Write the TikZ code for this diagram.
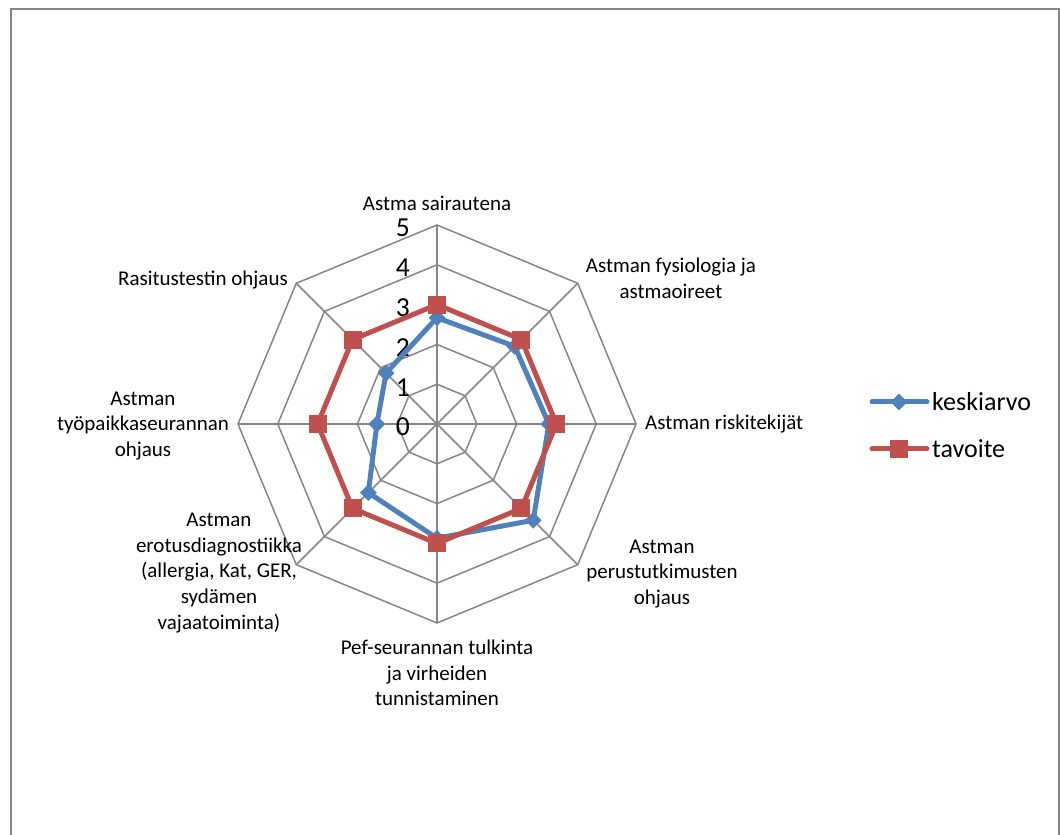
\documentclass[tikz,border=0pt]{standalone}
\usepackage{fontspec}
\setmainfont{Carlito}
\usetikzlibrary{shapes.geometric}
\definecolor{gridgray}{HTML}{868686}
\definecolor{serblue}{HTML}{4F81BD}
\definecolor{serred}{HTML}{C0504D}
\tikzset{
  grid line/.style={draw=gridgray, line width=1.5pt},
  series/.style={line width=5pt, line join=round},
  diamondmark/.style={diamond, fill=serblue, inner sep=0pt, minimum width=17pt, minimum height=17pt},
  squaremark/.style={rectangle, fill=serred, inner sep=0pt, minimum size=18pt},
  catlabel/.style={font=\fontsize{21}{25.6}\selectfont, align=center, inner sep=0pt},
  ticklabel/.style={font=\fontsize{27.5}{31}\selectfont, anchor=east, inner sep=0pt},
  legendtext/.style={font=\fontsize{26}{30}\selectfont, anchor=west, inner sep=0pt},
}
\begin{document}
\begin{tikzpicture}[x=1pt,y=1pt]
\useasboundingbox (0,0) rectangle (1060,835);
\clip (0,0) rectangle (1060,835);
% chart area frame
\draw[draw=gridgray, line width=1.8pt] (11,826) rectangle (1059,-10);

\begin{scope}[shift={(437,411)}]
  % octagonal rings for 1..5
  \foreach \r in {1,...,5} {
    \draw[grid line] (90:\r*39.8) -- (45:\r*39.8) -- (0:\r*39.8) -- (-45:\r*39.8)
      -- (-90:\r*39.8) -- (-135:\r*39.8) -- (180:\r*39.8) -- (135:\r*39.8) -- cycle;
  }
  % spokes
  \foreach \k in {0,...,7} \draw[grid line] (0,0) -- (90-45*\k:199);
  % scale values
  \foreach \v in {0,...,5} \node[ticklabel] (t\v) at (-27,\v*39.8-3) {\v};

  % series: keskiarvo
  \foreach \v [count=\k from 0] in {2.67,2.76,2.81,3.42,2.87,2.44,1.51,1.81}
    \coordinate (b\k) at (90-45*\k:\v*39.8);
  \draw[series, serblue] (b0) -- (b1) -- (b2) -- (b3) -- (b4) -- (b5) -- (b6) -- (b7) -- cycle;
  \foreach \k in {0,...,7} \node[diamondmark] (bm\k) at (b\k) {};

  % series: tavoite
  \foreach \v [count=\k from 0] in {3,3,3,3,3,3,3,3}
    \coordinate (r\k) at (90-45*\k:\v*39.8);
  \draw[series, serred] (r0) -- (r1) -- (r2) -- (r3) -- (r4) -- (r5) -- (r6) -- (r7) -- cycle;
  \foreach \k in {0,...,7} \node[squaremark] (rm\k) at (r\k) {};
\end{scope}

% category labels
\node[catlabel] (c0) at (437,632) {Astma sairautena};
\node[catlabel] (c1) at (671,556.5) {Astman fysiologia ja\\astmaoireet};
\node[catlabel, anchor=west] (c2) at (645,411) {Astman riskitekijät};
\node[catlabel] (c3) at (662,261) {Astman\\perustutkimusten\\ohjaus};
\node[catlabel] (c4) at (437,162) {Pef-seurannan tulkinta\\ja virheiden\\tunnistaminen};
\node[catlabel] (c5) at (219,262) {Astman\\erotusdiagnostiikka\\(allergia, Kat, GER,\\sydämen\\vajaatoiminta)};
\node[catlabel] (c6) at (143,409) {Astman\\työpaikkaseurannan\\ohjaus};
\node[catlabel] (c7) at (203,555) {Rasitustestin ohjaus};

% legend
\coordinate (lb1) at (872,433);
\coordinate (lb2) at (927,433);
\draw[series, serblue, line cap=round] (lb1) -- (lb2);
\node[diamondmark] (lbm) at (899,433) {};
\node[legendtext] (lbt) at (932,433) {keskiarvo};
\coordinate (lr1) at (872,386);
\coordinate (lr2) at (927,386);
\draw[series, serred, line cap=round] (lr1) -- (lr2);
\node[squaremark] (lrm) at (899,386) {};
\node[legendtext] (lrt) at (932,386) {tavoite};
\end{tikzpicture}
\end{document}
